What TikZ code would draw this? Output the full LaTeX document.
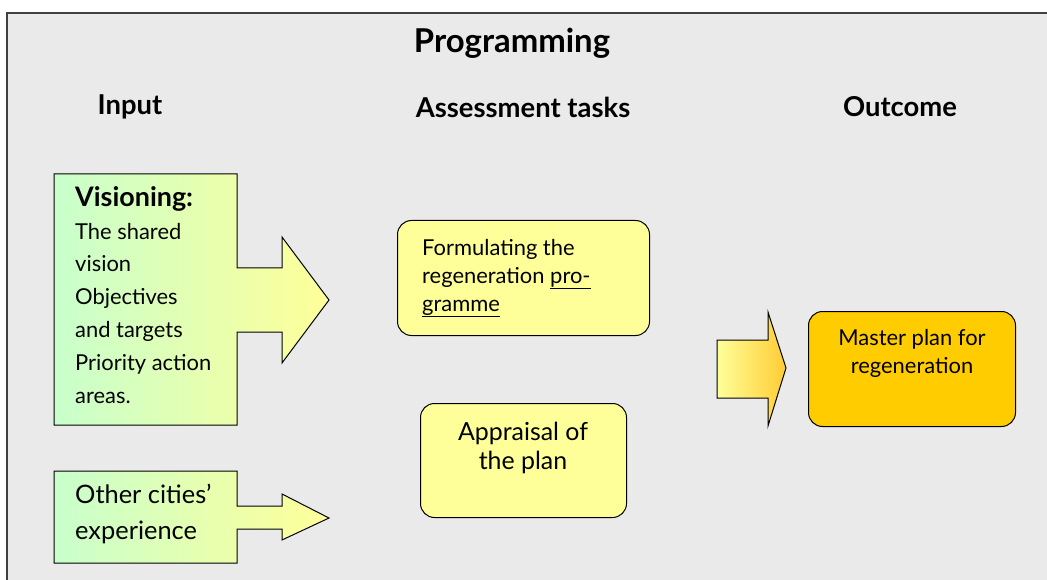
\documentclass[tikz,border=0pt]{standalone}
\usepackage{fontspec}
\setmainfont{Lato}
\definecolor{panel}{HTML}{EAEAEA}
\definecolor{mint}{HTML}{C8FFCC}
\definecolor{paleyellow}{HTML}{FFFF99}
\definecolor{gold}{HTML}{FFCC00}
\definecolor{amber}{HTML}{FFCC33}
\begin{document}
\begin{tikzpicture}[x=1bp,y=-1bp,
  frame/.style={draw=black!75, line width=1.5bp, fill=panel},
  inputshape/.style={draw=black, line width=1bp, left color=mint, right color=paleyellow},
  pushshape/.style={draw=black, line width=1bp, left color=paleyellow, right color=amber},
  task/.style={draw=black, line width=1bp, rounded corners=14bp, fill=paleyellow,
    anchor=north west, inner sep=0pt},
  result/.style={task, fill=gold},
  body/.style={font=\fontsize{22}{28}\selectfont, inner sep=0pt},
  headline/.style={font=\bfseries\fontsize{27.5}{32}\selectfont, inner sep=0pt},
  title/.style={font=\bfseries\fontsize{33}{38}\selectfont, inner sep=0pt}]
\useasboundingbox (0,0) rectangle (1047,580);
\clip (0,0) rectangle (1047,580);
\fill[white] (0,0) rectangle (1047,580);
\draw[frame] (7,13) rectangle (1070,600);

% headings
\node[title] (prog) at (512,43) {Programming};
\node[headline] (hin) at (130,107) {Input};
\node[headline] (htask) at (523,107) {Assessment tasks};
\node[headline] (hout) at (900,107) {Outcome};

% input boxes with their arrows
\path[inputshape] (54,174) -- (237,174) -- (237,268) -- (282,268) -- (282,237)
  -- (329,300) -- (282,363) -- (282,332) -- (237,332) -- (237,425) -- (54,425) -- cycle;
\path[inputshape] (54,471) -- (237,471) -- (237,506) -- (282,506) -- (282,494)
  -- (329,518) -- (282,540) -- (282,529) -- (237,529) -- (237,563) -- (54,563) -- cycle;

\node[body, anchor=north west, align=left, font=\fontsize{22}{33}\selectfont] (vis) at (75,186)
  {{\bfseries\fontsize{27}{30}\selectfont Visioning:}\\The shared\\vision\\Objectives\\and targets\\Priority action\\areas.};
\node[body, anchor=north west, align=left, font=\fontsize{25.5}{36}\selectfont] (other) at (75,484)
  {Other cities'\\experience};

% assessment tasks
\node[task, minimum width=252bp, minimum height=115bp] (form) at (397,220) {};
\node[body, anchor=north west, align=left] (formtxt) at (422,239)
  {Formulating the\\regeneration \underline{pro-}\\\underline{gramme}};
\node[task, minimum width=206bp, minimum height=114bp] (appr) at (420,403) {};
\node[body, align=center, font=\fontsize{25}{30}\selectfont] (apprtxt) at (523,448)
  {Appraisal of\\the plan};

% outcome
\path[pushshape] (717,340) -- (768,340) -- (768,312) -- (786,368) -- (768,426)
  -- (768,398) -- (717,398) -- cycle;
\node[result, minimum width=207bp, minimum height=115bp] (plan) at (808,311) {};
\node[body, align=center] (plantxt) at (912,353) {Master plan for\\regeneration};
\end{tikzpicture}
\end{document}
